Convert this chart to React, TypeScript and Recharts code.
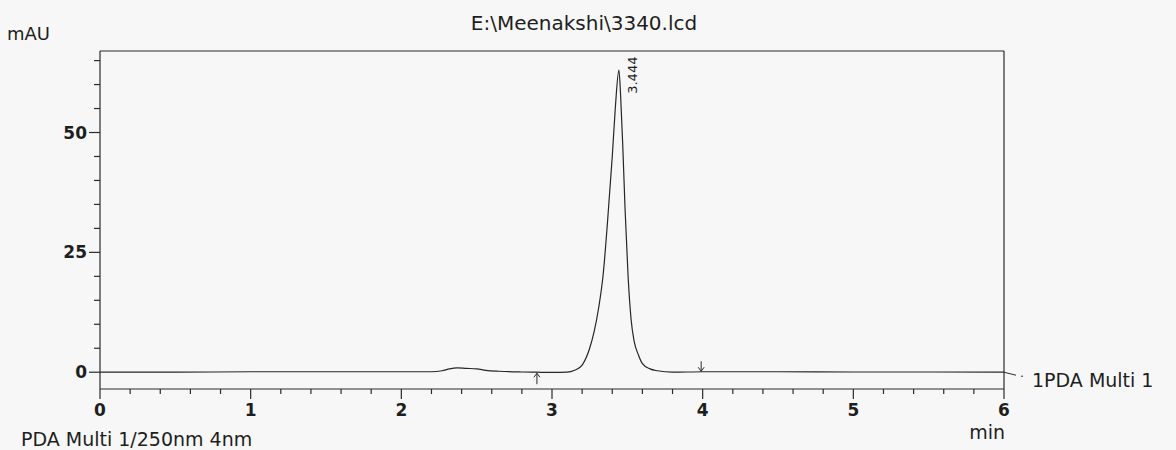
import React from 'react';
import { LineChart, Line, XAxis, YAxis, ReferenceDot, ReferenceLine } from 'recharts';

// chromatogram trace (min, mAU)
const times = [
  0, 0.5, 1.0, 1.5, 2.0, 2.2, 2.27, 2.32, 2.37, 2.43, 2.5, 2.56, 2.65, 2.8, 2.9, 3.0, 3.1,
  3.15, 3.2, 3.25, 3.28, 3.31, 3.34, 3.37, 3.4, 3.42, 3.444, 3.455, 3.47, 3.485, 3.505,
  3.525, 3.545, 3.575, 3.6, 3.65, 3.7, 3.8, 4.0, 4.5, 5.0, 5.5, 6.0,
];
const mAU = [
  0, 0, 0.1, 0.1, 0.1, 0.1, 0.3, 0.7, 0.9, 0.8, 0.7, 0.4, 0.2, 0.05, 0, -0.05, 0,
  0.4, 1.5, 5.0, 8.5, 13.5, 20.5, 32, 45, 55, 63, 58, 47, 34, 20,
  11, 6.5, 3.5, 1.8, 0.7, 0.3, 0, 0.1, 0.1, 0.05, 0.05, 0,
];

const xMajor = [0, 1, 2, 3, 4, 5, 6];
const xTicks = [
  0, 0.2, 0.4, 0.6, 0.8, 1, 1.2, 1.4, 1.6, 1.8, 2, 2.2, 2.4, 2.6, 2.8, 3, 3.2, 3.4, 3.6, 3.8,
  4, 4.2, 4.4, 4.6, 4.8, 5, 5.2, 5.4, 5.6, 5.8, 6,
];
const yMajor = [0, 25, 50];
const yTicks = [0, 5, 10, 15, 20, 25, 30, 35, 40, 45, 50, 55, 60, 65];
const xDomain = [0, 6];
const yDomain = [-3.5, 67];

const peakTime = 3.444;
const peakLabel = '3.444';
const startMark = 2.9;
const endMark = 3.99;
const traceName = '1PDA Multi 1';

const data = times.map((t, i) => ({ t, v: mAU[i] }));
const valueAt = (t: number) => mAU[times.indexOf(t)] ?? 0;

const FONT = '"DejaVu Sans", sans-serif';
const INK = '#2b2b2b';

const XTick = (props: any) => {
  const { x, y, payload } = props;
  const major = xMajor.includes(payload.value);
  return (
    <g>
      <line x1={x} x2={x} y1={y} y2={y + (major ? 10 : 5)} stroke={INK} strokeWidth={1.2} />
      {major && (
        <text x={x} y={y + 27} textAnchor="middle" fontFamily={FONT} fontSize={17} fontWeight="bold" fill="#1e1e1e">
          {payload.value}
        </text>
      )}
    </g>
  );
};

const YTick = (props: any) => {
  const { x, y, payload } = props;
  const major = yMajor.includes(payload.value);
  return (
    <g>
      <line x1={x - (major ? 11 : 6)} x2={x} y1={y} y2={y} stroke={INK} strokeWidth={1.2} />
      {major && (
        <text x={x - 13} y={y + 6} textAnchor="end" fontFamily={FONT} fontSize={17} fontWeight="bold" fill="#1e1e1e">
          {payload.value}
        </text>
      )}
    </g>
  );
};

const PeakText = ({ cx, cy }: any) => (
  <text
    transform={`translate(${cx + 14}, ${cy + 5}) rotate(-90)`}
    textAnchor="middle"
    dominantBaseline="central"
    fontFamily={FONT}
    fontSize={13}
    fill="#1e1e1e"
  >
    {peakLabel}
  </text>
);

const UpArrow = ({ cx, cy }: any) => (
  <g stroke={INK} strokeWidth={1} fill="none">
    <line x1={cx} x2={cx} y1={cy + 1} y2={cy + 12} />
    <polyline points={`${cx - 3},${cy + 5} ${cx},${cy + 1} ${cx + 3},${cy + 5}`} />
  </g>
);

const DownArrow = ({ cx, cy }: any) => (
  <g stroke={INK} strokeWidth={1} fill="none">
    <line x1={cx} x2={cx} y1={cy - 11} y2={cy - 1} />
    <polyline points={`${cx - 3},${cy - 5} ${cx},${cy - 1} ${cx + 3},${cy - 5}`} />
  </g>
);

const TraceTag = ({ cx, cy }: any) => (
  <g>
    <polyline points={`${cx},${cy} ${cx + 12},${cy + 3}`} stroke={INK} strokeWidth={1} fill="none" />
    <line x1={cx + 17} x2={cx + 19} y1={cy + 4} y2={cy + 4} stroke={INK} strokeWidth={1} />
    <text x={cx + 28} y={cy + 15} fontFamily={FONT} fontSize={19} fill="#1e1e1e">
      {traceName}
    </text>
  </g>
);

export default function App() {
  return (
    <div style={{ position: 'absolute', left: 0, top: 0, width: 1176, height: 450, background: '#f7f7f7' }}>
      <LineChart width={1176} height={450} data={data} margin={{ top: 51, right: 172, bottom: 31, left: 0 }}>
        <XAxis
          dataKey="t"
          type="number"
          domain={xDomain}
          ticks={xTicks}
          interval={0}
          height={30}
          tickSize={0}
          tickMargin={0}
          tickLine={false}
          tick={<XTick />}
          axisLine={{ stroke: INK, strokeWidth: 1.2 }}
        />
        <YAxis
          type="number"
          domain={yDomain}
          ticks={yTicks}
          interval={0}
          width={100}
          tickSize={0}
          tickMargin={0}
          tickLine={false}
          tick={<YTick />}
          axisLine={{ stroke: INK, strokeWidth: 1.2 }}
        />
        {/* top and right edges of the plot frame */}
        <ReferenceLine y={yDomain[1]} stroke={INK} strokeWidth={1.2} ifOverflow="visible" />
        <ReferenceLine x={xDomain[1]} stroke={INK} strokeWidth={1.2} ifOverflow="visible" />
        <Line
          type="monotone"
          dataKey="v"
          stroke="#262626"
          strokeWidth={1.2}
          dot={false}
          isAnimationActive={false}
        />
        <ReferenceDot x={peakTime} y={valueAt(peakTime)} shape={<PeakText />} ifOverflow="visible" />
        <ReferenceDot x={startMark} y={valueAt(startMark)} shape={<UpArrow />} ifOverflow="visible" />
        <ReferenceDot x={endMark} y={0} shape={<DownArrow />} ifOverflow="visible" />
        <ReferenceDot x={6} y={valueAt(6)} shape={<TraceTag />} ifOverflow="visible" />
      </LineChart>
      <svg width={1176} height={450} style={{ position: 'absolute', left: 0, top: 0, pointerEvents: 'none' }}>
        <text x={584} y={30} textAnchor="middle" fontFamily={FONT} fontSize={20} fill="#1e1e1e">
          E:\Meenakshi\3340.lcd
        </text>
        <text x={50} y={40} textAnchor="end" fontFamily={FONT} fontSize={18} fill="#1e1e1e">
          mAU
        </text>
        <text x={1005} y={439} textAnchor="end" fontFamily={FONT} fontSize={19} fill="#1e1e1e">
          min
        </text>
        <text x={21} y={446} fontFamily={FONT} fontSize={19} fill="#1e1e1e">
          PDA Multi 1/250nm 4nm
        </text>
      </svg>
    </div>
  );
}
